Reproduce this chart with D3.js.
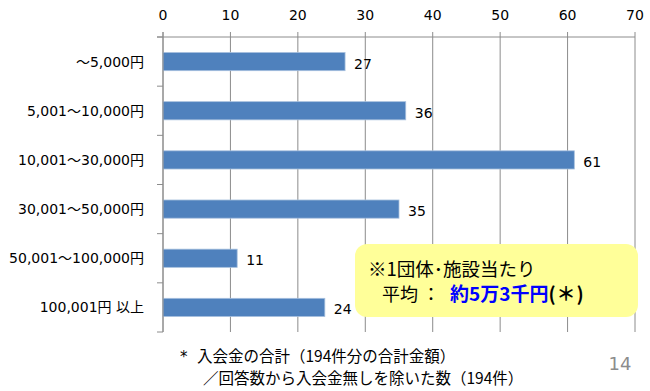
<!DOCTYPE html>
<html>
<head>
<meta charset="utf-8">
<script src="https://cdn.jsdelivr.net/npm/d3@7.9.0/dist/d3.min.js"></script>
<style>
  body { margin: 0; background: #fff; }
  text { font-family: "DejaVu Sans", "Noto Sans CJK JP", sans-serif; }
  .jp { font-family: "Noto Sans CJK JP", sans-serif; }
</style>
</head>
<body>
<div class="container"></div>
<script>
// data
const categories = ["～5,000円", "5,001～10,000円", "10,001～30,000円", "30,001～50,000円", "50,001～100,000円", "100,001円 以上"];
const counts = [27, 36, 61, 35, 11, 24];
const xTicks = [0, 10, 20, 30, 40, 50, 60, 70];
const noteLines = ["入会金の合計（194件分の合計金額）", "／回答数から入会金無しを除いた数（194件）"];

const width = 650, height = 391;
const margin = {top: 37, right: 15, bottom: 59, left: 163};

const svg = d3.select(".container")
    .append("svg")
    .attr("width", width)
    .attr("height", height);

const x = d3.scaleLinear()
    .domain([0, 70])
    .range([margin.left, 635]);

const y = d3.scaleBand()
    .domain(categories)
    .range([margin.top, height - margin.bottom])
    .paddingInner(0.63)
    .paddingOuter(0.315);

const gridColor = "#8c8c8c";

// vertical gridlines + top ticks
svg.append("g")
    .selectAll("line")
    .data(xTicks)
    .enter().append("line")
    .attr("x1", d => x(d)).attr("x2", d => x(d))
    .attr("y1", margin.top - 5)
    .attr("y2", height - margin.bottom)
    .attr("stroke", gridColor)
    .attr("stroke-width", 1);

// top axis line
svg.append("line")
    .attr("x1", margin.left - 6).attr("x2", x(70))
    .attr("y1", margin.top).attr("y2", margin.top)
    .attr("stroke", gridColor);

// top tick labels
svg.append("g")
    .selectAll("text")
    .data(xTicks)
    .enter().append("text")
    .attr("x", d => x(d))
    .attr("y", 20)
    .attr("text-anchor", "middle")
    .attr("font-size", 14)
    .attr("fill", "#000")
    .text(d => d);

// category axis ticks (band boundaries)
const bounds = categories.map(c => y(c) - y.step() * y.paddingInner() / 2).concat([height - margin.bottom]);
svg.append("g")
    .selectAll("line")
    .data(bounds)
    .enter().append("line")
    .attr("x1", margin.left - 6).attr("x2", margin.left)
    .attr("y1", d => d).attr("y2", d => d)
    .attr("stroke", gridColor);

// bars
svg.append("g")
    .selectAll("rect")
    .data(counts)
    .enter().append("rect")
    .attr("x", x(0))
    .attr("y", (d, i) => y(categories[i]))
    .attr("width", d => x(d) - x(0))
    .attr("height", y.bandwidth())
    .attr("fill", "#4f81bd")
    .attr("stroke", "#a7c0de")
    .attr("stroke-width", 0.8);

// category labels
svg.append("g")
    .selectAll("text")
    .data(categories)
    .enter().append("text")
    .attr("x", 144)
    .attr("y", d => y(d) + y.bandwidth() / 2)
    .attr("dy", "0.36em")
    .attr("text-anchor", "end")
    .attr("font-size", 14)
    .attr("fill", "#000")
    .text(d => d);

// value labels
svg.append("g")
    .selectAll("text")
    .data(counts)
    .enter().append("text")
    .attr("x", d => x(d) + 9)
    .attr("y", (d, i) => y(categories[i]) + y.bandwidth() / 2 + 2)
    .attr("dy", "0.36em")
    .attr("font-size", 14)
    .attr("fill", "#000")
    .text(d => d);

// left axis line
svg.append("line")
    .attr("x1", margin.left).attr("x2", margin.left)
    .attr("y1", margin.top - 5).attr("y2", height - margin.bottom)
    .attr("stroke", gridColor);

// yellow callout
const box = svg.append("g");
box.append("rect")
    .attr("x", 355).attr("y", 244)
    .attr("width", 283).attr("height", 73)
    .attr("rx", 12)
    .attr("fill", "#ffff99");
box.append("text")
    .attr("class", "jp")
    .attr("x", 368).attr("y", 276)
    .attr("font-size", 18.5)
    .attr("fill", "#000")
    .text("※1団体･施設当たり");
box.append("text")
    .attr("class", "jp")
    .attr("x", 382).attr("y", 301)
    .attr("font-size", 18)
    .attr("fill", "#000")
    .text("平均");
box.append("text")
    .attr("class", "jp")
    .attr("x", 422).attr("y", 301)
    .attr("font-size", 18)
    .attr("fill", "#000")
    .text("：");
const avg = box.append("text")
    .attr("class", "jp")
    .attr("x", 450).attr("y", 301)
    .attr("font-size", 19)
    .attr("font-weight", "bold");
avg.append("tspan").attr("fill", "#0000ff").text("約5万3千円");
avg.append("tspan").attr("fill", "#000").attr("letter-spacing", 1).text("(＊)");

// footnote
svg.append("text")
    .attr("x", 180).attr("y", 362)
    .attr("font-size", 15)
    .attr("fill", "#000")
    .text("*");
svg.append("g")
    .selectAll("text")
    .data(noteLines)
    .enter().append("text")
    .attr("class", "jp")
    .attr("x", (d, i) => i === 0 ? 197 : 203)
    .attr("y", (d, i) => 362 + i * 22)
    .attr("font-size", 15.5)
    .attr("fill", "#000")
    .text(d => d);

// page number
svg.append("text")
    .attr("x", 620).attr("y", 370)
    .attr("text-anchor", "middle")
    .attr("font-family", "Liberation Sans, sans-serif")
    .attr("font-size", 18)
    .attr("fill", "#8c8c8c")
    .text("14");
</script>
</body>
</html>
